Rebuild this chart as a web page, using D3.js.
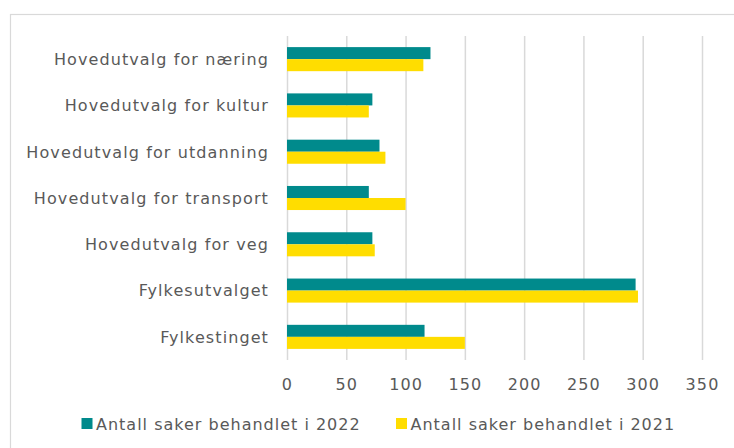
<html>
<head>
  <script src="https://d3js.org/d3.v7.min.js"></script>
  <style>
    body { margin: 0; background: #fff; }
    text { font-family: "DejaVu Sans", Verdana, sans-serif; fill: #595959; }
    .gridlines line { stroke: #d9d9d9; stroke-width: 1.5; }
    .gridlines .domain { stroke: none; }
  </style>
</head>
<body>
  <svg id="chart" width="734" height="448"></svg>
  <script>
    const categories = ["Hovedutvalg for næring", "Hovedutvalg for kultur", "Hovedutvalg for utdanning",
      "Hovedutvalg for transport", "Hovedutvalg for veg", "Fylkesutvalget", "Fylkestinget"];
    const values2022 = [121, 72, 78, 69, 72, 294, 116];
    const values2021 = [115, 69, 83, 100, 74, 296, 150];
    const seriesNames = ["Antall saker behandlet i 2022", "Antall saker behandlet i 2021"];
    const xTicks = [0, 50, 100, 150, 200, 250, 300, 350];

    const colors = ["#008a8c", "#ffdd00"];

    let svg = d3.select("svg#chart");
    let margin = { top: 36, left: 287, bottom: 88, right: 32 };
    let chartWidth = svg.attr('width') - margin.left - margin.right;
    let chartHeight = svg.attr('height') - margin.top - margin.bottom;

    // chart frame (right and bottom edges run off the page)
    svg.append("rect")
      .attr("x", 10.5).attr("y", 14.5)
      .attr("width", 740).attr("height", 460)
      .attr("fill", "none")
      .attr("stroke", "#d9d9d9")
      .attr("stroke-width", 1.2);

    const xScale = d3.scaleLinear().domain([0, 350]).range([0, chartWidth]);
    const yScale = d3.scaleBand().domain(categories).range([0, chartHeight]).paddingInner(0.48).paddingOuter(0.24);
    const subScale = d3.scaleBand().domain([0, 1]).range([0, yScale.bandwidth()]);

    let grid = d3.axisBottom(xScale).tickValues(xTicks).tickSize(-chartHeight).tickFormat("");
    svg.append('g')
      .attr("class", "gridlines")
      .attr('transform', `translate(${margin.left},${margin.top + chartHeight})`)
      .call(grid);

    let chartArea = svg.append('g')
      .attr('transform', `translate(${margin.left}, ${margin.top})`);

    [values2022, values2021].forEach((vals, s) => {
      chartArea.selectAll("rect.s" + s).data(vals)
        .join("rect")
        .attr("class", "s" + s)
        .attr("x", xScale(0))
        .attr("y", (d, i) => yScale(categories[i]) + subScale(s))
        .attr("width", d => xScale(d) - xScale(0))
        .attr("height", subScale.bandwidth())
        .attr("fill", colors[s]);
    });

    // category labels
    chartArea.selectAll("text.cat").data(categories)
      .join("text")
      .attr("class", "cat")
      .attr("x", -18)
      .attr("y", d => yScale(d) + yScale.bandwidth() / 2)
      .attr("dy", "0.37em")
      .attr("text-anchor", "end")
      .style("font-size", "16px")
      .style("letter-spacing", "1.1px")
      .text(d => d);

    // x tick labels
    chartArea.selectAll("text.tick").data(xTicks)
      .join("text")
      .attr("class", "tick")
      .attr("x", d => xScale(d) + 0.5)
      .attr("y", chartHeight + 30)
      .attr("text-anchor", "middle")
      .style("font-size", "16px")
      .style("letter-spacing", "1.1px")
      .text(d => d);

    // legend
    const legendX = [81.5, 396];
    seriesNames.forEach((d, i) => {
      svg.append("rect")
        .attr("x", legendX[i])
        .attr("y", 418)
        .attr("width", 11)
        .attr("height", 11)
        .style("fill", colors[i]);
      svg.append("text")
        .attr("x", legendX[i] + 14.5)
        .attr("y", 430)
        .style("font-size", "16px")
        .style("letter-spacing", "1px")
        .text(d);
    });
  </script>
</body>
</html>
